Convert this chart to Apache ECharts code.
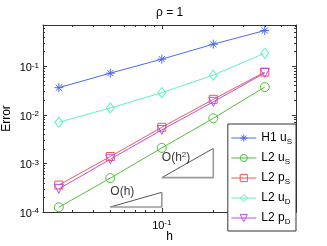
<!DOCTYPE html>
<html><head><meta charset="utf-8">
<script src="https://cdn.jsdelivr.net/npm/echarts@6/dist/echarts.min.js"></script>
<style>html,body{margin:0;padding:0;background:#fff;overflow:hidden}#c{width:327px;height:246px}</style>
</head><body><div id="c"></div>
<script>
// ---- data ----
const hValues = [0.025, 0.05, 0.1, 0.2, 0.4];
const seriesNames = ['H1 u_S', 'L2 u_S', 'L2 p_S', 'L2 u_D', 'L2 p_D'];
const errH1uS = [0.0363, 0.0724, 0.1406, 0.286, 0.546];
const errL2uS = [1.25e-4, 4.99e-4, 2.09e-3, 8.5e-3, 0.0374];
const errL2pS = [3.58e-4, 1.39e-3, 5.56e-3, 0.0209, 0.076];
const errL2uD = [0.00705, 0.01387, 0.0287, 0.0659, 0.1866];
const errL2pD = [3.0e-4, 1.22e-3, 4.9e-3, 0.0186, 0.073];
const xMajorTicks = [0.1];
const xMinorTicks = [0.03, 0.04, 0.05, 0.06, 0.07, 0.08, 0.09, 0.2, 0.3, 0.4, 0.5, 0.6];
const yMajorTicks = [1e-4, 1e-3, 1e-2, 1e-1];
const yMinorTicks = [2e-4,3e-4,4e-4,5e-4,6e-4,7e-4,8e-4,9e-4,
                     2e-3,3e-3,4e-3,5e-3,6e-3,7e-3,8e-3,9e-3,
                     2e-2,3e-2,4e-2,5e-2,6e-2,7e-2,8e-2,9e-2,
                     2e-1,3e-1,4e-1,5e-1,6e-1,7e-1];
// slope triangles (annotation, in data units)
const slope1Tri = [[0.05, 1.27e-4], [0.1, 1.27e-4], [0.1, 2.54e-4]];
const slope2Tri = [[0.1, 5.1e-4], [0.2, 5.1e-4], [0.2, 2.04e-3]];
const slope1Label = [0.05, 2.75e-4];
const slope2Label = [0.1, 1.37e-3];

// ---- styles ----
const colors = ['#4d68f2', '#4fbf3a', '#f25858', '#5ff2bf', '#b54ff0'];
const symbols = [
  'path://M5 0 L5 10 M0 5 L10 5 M1.6 1.6 L8.4 8.4 M1.6 8.4 L8.4 1.6',
  'circle', 'rect', 'diamond', 'path://M0 0 L10 0 L5 9 Z'
];
const symbolSizes = [9, 9, 8, [8, 10], 9];
const FONT = 'Liberation Sans';
const errs = [errH1uS, errL2uS, errL2pS, errL2uD, errL2pD];

const mainSeries = seriesNames.map((n, i) => ({
  name: n, type: 'line', xAxisIndex: 0, yAxisIndex: 0,
  data: hValues.map((h, k) => [h, errs[i][k]]),
  symbol: symbols[i], symbolSize: symbolSizes[i],
  color: colors[i],
  lineStyle: {color: colors[i], width: 1},
  itemStyle: {color: 'rgba(0,0,0,0)', borderColor: colors[i], borderWidth: 1},
  emphasis: {disabled: true}, z: 3
}));

function triSeries(tri) {
  return [
    {type: 'line', data: [tri[0], tri[2]], symbol: 'none', lineStyle: {color: '#555', width: 1}, silent: true, z: 2},
    {type: 'line', data: [tri[0], tri[1], tri[2]], symbol: 'none', lineStyle: {color: '#9a9a9a', width: 1.6}, silent: true, z: 2}
  ];
}
const supRich = {sup: {fontSize: 8, fontFamily: FONT, color: '#000', verticalAlign: 'top', lineHeight: 8}};
function labelSeries(pt, txt) {
  return {type: 'scatter', data: [pt], symbol: 'circle', symbolSize: 1, itemStyle: {color: 'rgba(0,0,0,0)'}, silent: true,
    label: {show: true, position: 'inside', align: 'left', verticalAlign: 'middle', offset: [0, 1], formatter: txt, color: '#000',
      fontFamily: FONT, fontSize: 12, lineHeight: 15, rich: supRich}};
}

const supLabel = v => '10{sup|' + Math.round(Math.log10(v)) + '}';
const tickLabelStyle = {fontFamily: FONT, fontSize: 11, color: '#000', lineHeight: 14, rich: supRich};
const lineC = '#333';

function xAx(pos, ticks, len, showLine, showLabel, extra) {
  return Object.assign({
    type: 'log', logBase: 10, min: 0.0202, max: 0.609, position: pos,
    axisLine: {show: showLine, lineStyle: {color: lineC, width: 1}},
    axisTick: {show: true, inside: true, length: len, customValues: ticks, lineStyle: {color: lineC}},
    axisLabel: showLabel ? Object.assign({customValues: xMajorTicks, formatter: supLabel, margin: 7}, tickLabelStyle) : {show: false},
    splitLine: {show: false}, minorTick: {show: false}
  }, extra || {});
}
function yAx(pos, ticks, len, showLine, showLabel, extra) {
  return Object.assign({
    type: 'log', logBase: 10, min: 1e-4, max: 0.71, position: pos,
    axisLine: {show: showLine, lineStyle: {color: lineC, width: 1}},
    axisTick: {show: true, inside: true, length: len, customValues: ticks, lineStyle: {color: lineC}},
    axisLabel: showLabel ? Object.assign({customValues: yMajorTicks, formatter: supLabel, margin: 4, padding: [4, 0, 0, 0]}, tickLabelStyle) : {show: false},
    splitLine: {show: false}, minorTick: {show: false}
  }, extra || {});
}

const option = {
  animation: false,
  backgroundColor: '#fff',
  title: {text: 'ρ = 1', left: 151, top: 2,
    textStyle: {fontFamily: FONT, fontSize: 12, fontWeight: 'normal', color: '#000'}},
  grid: {left: 43, right: 31, top: 25, bottom: 34, containLabel: false, outerBoundsMode: 'none'},
  xAxis: [
    xAx('bottom', xMajorTicks, 4, true, true,
      {name: 'h', nameLocation: 'middle', nameGap: 19, nameMoveOverlap: false,
       nameTextStyle: {fontFamily: FONT, fontSize: 12, color: '#000'}}),
    xAx('bottom', xMinorTicks, 2, false, false),
    xAx('top', xMajorTicks, 4, true, false),
    xAx('top', xMinorTicks, 2, false, false)
  ],
  yAxis: [
    yAx('left', yMajorTicks, 4, true, true,
      {name: 'Error', nameLocation: 'middle', nameGap: 30, nameMoveOverlap: false,
       nameTextStyle: {fontFamily: FONT, fontSize: 12, color: '#000'}}),
    yAx('left', yMinorTicks, 2, false, false),
    yAx('right', yMajorTicks, 4, true, false),
    yAx('right', yMinorTicks, 2, false, false)
  ],
  legend: {
    data: seriesNames, orient: 'vertical', right: 31, top: 124,
    backgroundColor: '#fff', borderColor: '#333', borderWidth: 1, borderRadius: 0,
    padding: [6, 4, 5, 3], itemGap: 4, itemWidth: 25, itemHeight: 9,
    itemStyle: {borderWidth: 1, color: 'rgba(0,0,0,0)'},
    lineStyle: {width: 1},
    formatter: n => { const p = n.split('_'); return p[0] + '{sub|' + p[1] + '}'; },
    textStyle: {fontFamily: FONT, fontSize: 12, color: '#000', lineHeight: 16,
      rich: {sub: {fontSize: 8, fontFamily: FONT, color: '#000', verticalAlign: 'bottom', lineHeight: 9}}},
    selectedMode: false
  },
  series: [
    ...triSeries(slope1Tri), ...triSeries(slope2Tri),
    labelSeries(slope1Label, 'O(h)'), labelSeries(slope2Label, 'O(h{sup|2})'),
    ...mainSeries
  ]
};
const chart = echarts.init(document.getElementById('c'), null, {renderer: 'canvas'});
chart.setOption(option);
</script></body></html>
